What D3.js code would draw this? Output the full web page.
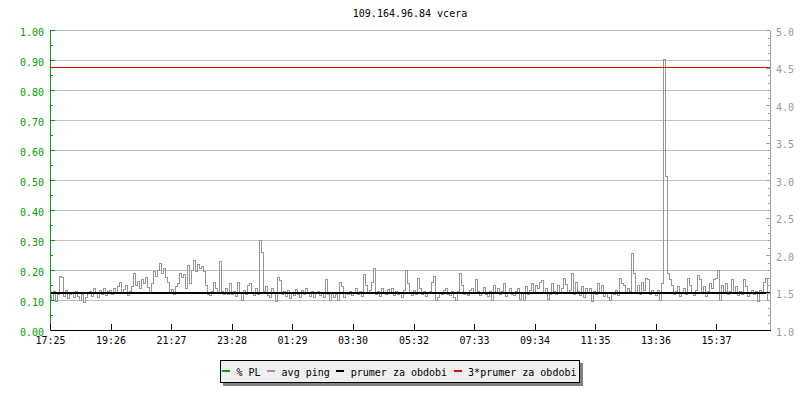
<!DOCTYPE html>
<html>
<head>
<meta charset="utf-8">
<script src="https://d3js.org/d3.v7.min.js"></script>
<style>
    body { margin: 0; background-color: #fff; }
    text { font: 10px 'DejaVu Sans Mono', monospace; }
</style>
</head>
<body>
<svg width="800" height="400"></svg>
<script>
var title = "109.164.96.84 vcera";

// time axis: minutes from start, and the labels printed under them
var tickMinutes = [0, 121, 242, 363, 484, 605, 727, 848, 969, 1090, 1211, 1332];
var tickLabels = ["17:25", "19:26", "21:27", "23:28", "01:29", "03:30",
                  "05:32", "07:33", "09:34", "11:35", "13:36", "15:37"];
var spanMinutes = 1440;
var stepMinutes = 4;

// avg ping (right axis), one value every 4 minutes
var pingValues = [
    1.46,1.40,1.52,1.38,1.47,1.71,1.70,1.45,1.53,1.42,
    1.47,1.50,1.43,1.52,1.45,1.40,1.48,1.37,1.44,1.50,
    1.52,1.45,1.55,1.49,1.44,1.53,1.48,1.56,1.46,1.51,
    1.53,1.47,1.55,1.50,1.58,1.64,1.49,1.54,1.60,1.46,
    1.52,1.58,1.76,1.60,1.65,1.55,1.68,1.62,1.70,1.57,
    1.50,1.62,1.78,1.72,1.80,1.89,1.75,1.82,1.70,1.64,
    1.50,1.54,1.47,1.58,1.62,1.76,1.70,1.74,1.55,1.86,
    1.62,1.80,1.93,1.78,1.88,1.82,1.85,1.78,1.60,1.48,
    1.46,1.52,1.64,1.55,1.50,1.92,1.52,1.47,1.55,1.48,
    1.62,1.48,1.52,1.45,1.64,1.50,1.40,1.53,1.47,1.60,
    1.62,1.50,1.46,1.55,1.48,2.20,2.04,1.52,1.58,1.46,
    1.44,1.56,1.50,1.38,1.70,1.66,1.48,1.52,1.45,1.53,
    1.42,1.50,1.46,1.54,1.48,1.44,1.53,1.47,1.55,1.49,
    1.45,1.51,1.43,1.49,1.52,1.46,1.50,1.44,1.67,1.47,
    1.40,1.50,1.43,1.48,1.39,1.64,1.58,1.44,1.50,1.47,
    1.52,1.46,1.50,1.55,1.48,1.51,1.45,1.74,1.60,1.49,
    1.53,1.64,1.82,1.48,1.52,1.45,1.55,1.50,1.47,1.54,
    1.49,1.55,1.46,1.52,1.48,1.50,1.44,1.53,1.80,1.62,
    1.50,1.46,1.53,1.48,1.69,1.55,1.47,1.51,1.45,1.49,
    1.52,1.64,1.71,1.40,1.44,1.50,1.47,1.53,1.55,1.48,
    1.46,1.51,1.44,1.40,1.52,1.75,1.60,1.48,1.50,1.46,
    1.53,1.56,1.49,1.67,1.52,1.46,1.50,1.57,1.48,1.45,
    1.51,1.40,1.60,1.49,1.56,1.47,1.52,1.62,1.45,1.50,
    1.55,1.48,1.46,1.52,1.56,1.41,1.50,1.40,1.58,1.47,
    1.53,1.62,1.49,1.60,1.55,1.63,1.66,1.50,1.56,1.41,
    1.48,1.62,1.52,1.47,1.60,1.50,1.55,1.69,1.61,1.49,
    1.53,1.76,1.48,1.64,1.52,1.46,1.58,1.44,1.55,1.49,
    1.55,1.38,1.52,1.47,1.62,1.50,1.60,1.45,1.49,1.44,
    1.40,1.50,1.48,1.53,1.46,1.69,1.62,1.60,1.49,1.56,
    1.52,2.02,1.76,1.50,1.60,1.47,1.64,1.53,1.69,1.68,
    1.48,1.53,1.50,1.46,1.53,1.40,1.62,4.61,3.05,1.75,
    1.67,1.60,1.48,1.52,1.58,1.45,1.50,1.55,1.47,1.69,
    1.60,1.49,1.46,1.53,1.73,1.67,1.50,1.58,1.45,1.52,
    1.62,1.55,1.68,1.69,1.80,1.39,1.60,1.50,1.62,1.47,
    1.52,1.68,1.49,1.58,1.46,1.52,1.48,1.67,1.58,1.45,
    1.50,1.53,1.47,1.51,1.38,1.53,1.49,1.64,1.69,1.40
];
var meanPing = 1.5;

var legendLabels = ["% PL", "avg ping", "prumer za obdobi", "3*prumer za obdobi"];
var legendColors = ["#00a000", "#999999", "#000000", "#e00000"];

var svg = d3.select("svg"),
    plotLeft = 50, plotRight = 770, plotTop = 30, plotBottom = 330;

var x = d3.scaleLinear().domain([0, spanMinutes]).range([plotLeft, plotRight]);
var yL = d3.scaleLinear().domain([0, 1]).range([plotBottom, plotTop]);
var yR = d3.scaleLinear().domain([1, 5]).range([plotBottom, plotTop]);

svg.append("text")
    .attr("x", (plotLeft + plotRight) / 2)
    .attr("y", 17)
    .attr("text-anchor", "middle")
    .attr("fill", "#000")
    .text(title);

// horizontal grid
var majorL = d3.range(0, 11).map(function(d) { return d / 10; });
svg.append("g").selectAll("line")
    .data(majorL.slice(1))
    .enter().append("line")
    .attr("x1", plotLeft).attr("x2", plotRight)
    .attr("y1", function(d) { return yL(d); })
    .attr("y2", function(d) { return yL(d); })
    .attr("stroke", "#c0c0c0")
    .attr("shape-rendering", "crispEdges");

// avg ping
var line = d3.line()
    .x(function(d, i) { return x(i * stepMinutes); })
    .y(function(d) { return yR(d); })
    .curve(d3.curveStep);

svg.append("path")
    .datum(pingValues)
    .attr("fill", "none")
    .attr("stroke", "#969696")
    .attr("stroke-width", 1)
    .attr("shape-rendering", "crispEdges")
    .attr("d", line);

// mean and 3*mean
svg.append("line")
    .attr("x1", plotLeft).attr("x2", plotRight)
    .attr("y1", yR(meanPing)).attr("y2", yR(meanPing))
    .attr("stroke", "#000").attr("stroke-width", 2)
    .attr("shape-rendering", "crispEdges");
svg.append("line")
    .attr("x1", plotLeft).attr("x2", plotRight)
    .attr("y1", yR(3 * meanPing)).attr("y2", yR(3 * meanPing))
    .attr("stroke", "#e00000").attr("stroke-width", 1)
    .attr("shape-rendering", "crispEdges");

// left axis (green)
var minorL = d3.range(0, 10).map(function(d) { return d / 10 + 0.05; });
var gL = svg.append("g").attr("transform", "translate(" + plotLeft + ",0)");
gL.call(d3.axisLeft(yL).tickValues(majorL).tickFormat(d3.format(".2f"))
    .tickSizeInner(-5).tickSizeOuter(0).tickPadding(6));
gL.append("g").call(d3.axisLeft(yL).tickValues(minorL).tickFormat("")
    .tickSizeInner(-3).tickSizeOuter(0));
gL.selectAll("path, line").attr("stroke", "#00a000").attr("shape-rendering", "crispEdges");
gL.selectAll("text").attr("fill", "#00a000").attr("dy", "0.52em")
    .style("font", "10px 'DejaVu Sans Mono'");

// right axis (gray)
var majorR = d3.range(0, 9).map(function(d) { return 1 + d / 2; });
var minorR = d3.range(0, 41).map(function(d) { return 1 + d / 10; });
var gR = svg.append("g").attr("transform", "translate(" + plotRight + ",0)");
gR.call(d3.axisRight(yR).tickValues(majorR).tickFormat(d3.format(".1f"))
    .tickSizeInner(-4).tickSizeOuter(0).tickPadding(6));
gR.append("g").call(d3.axisRight(yR).tickValues(minorR).tickFormat("")
    .tickSizeInner(-2).tickSizeOuter(0));
gR.selectAll("path, line").attr("stroke", "#a0a0a0").attr("shape-rendering", "crispEdges");
gR.selectAll("text").attr("fill", "#999999").attr("dy", "0.52em")
    .style("font", "10px 'DejaVu Sans Mono'");

// bottom axis
var gB = svg.append("g").attr("transform", "translate(0," + plotBottom + ")");
gB.call(d3.axisBottom(x).tickValues(tickMinutes)
    .tickFormat(function(d, i) { return tickLabels[i]; })
    .tickSizeInner(-6).tickSizeOuter(0).tickPadding(7));
gB.selectAll("path, line").attr("stroke", "#000").attr("shape-rendering", "crispEdges");
gB.selectAll("text").attr("fill", "#000").style("font", "10px 'DejaVu Sans Mono'");

// legend
var lg = svg.append("g");
lg.append("rect").attr("x", 223).attr("y", 363).attr("width", 360).attr("height", 23)
    .attr("fill", "#808080");
lg.append("rect").attr("x", 220.5).attr("y", 360.5).attr("width", 359).attr("height", 22)
    .attr("fill", "#efefef").attr("stroke", "#000");
var cx = 222;
legendLabels.forEach(function(label, i) {
    lg.append("line")
        .attr("x1", cx).attr("x2", cx + 8)
        .attr("y1", 371).attr("y2", 371)
        .attr("stroke", legendColors[i]).attr("stroke-width", 2)
        .attr("shape-rendering", "crispEdges");
    var t = lg.append("text")
        .attr("x", cx + 14.5)
        .attr("y", 375.5)
        .attr("fill", "#000")
        .text(label);
    cx = cx + 14.5 + t.node().getComputedTextLength() + 6.5;
});
</script>
</body>
</html>
